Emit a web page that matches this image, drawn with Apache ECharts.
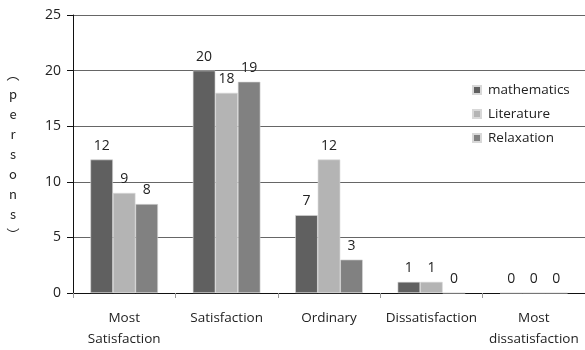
<!DOCTYPE html>
<html><head><meta charset="utf-8">
<script src="https://cdn.jsdelivr.net/npm/echarts@6/dist/echarts.min.js"></script>
<style>html,body{margin:0;padding:0;background:#fff}#c{width:585px;height:350px}</style>
</head><body><div id="c"></div>
<script>
var categories = ['Most\nSatisfaction', 'Satisfaction', 'Ordinary', 'Dissatisfaction', 'Most\ndissatisfaction'];
var mathematics = [12, 20, 7, 1, 0];
var literature = [9, 18, 12, 1, 0];
var relaxation = [8, 19, 3, 0, 0];
var seriesNames = ['mathematics', 'Literature', 'Relaxation'];
var yTicks = [0, 5, 10, 15, 20, 25];
var yName = '︵\np\ne\nr\ns\no\nn\ns\n︶';

var FONT = '"Open Sans", sans-serif';
var colors = ['#606060', '#b4b4b4', '#818181'];
var chart = echarts.init(document.getElementById('c'), null, {renderer: 'canvas'});
function mk(name, data, i) {
  return {
    name: name, type: 'bar', data: data, barGap: '0%', barCategoryGap: '34%',
    itemStyle: {color: colors[i], borderColor: '#d8d8d8', borderWidth: 0.6},
    label: {show: true, position: 'top', distance: 7, color: '#222', fontSize: 14, fontFamily: FONT},
    emphasis: {disabled: true}
  };
}
chart.setOption({
  animation: false,
  color: colors,
  grid: {left: 73, right: 0, top: 15, bottom: 56, containLabel: false},
  legend: {
    orient: 'vertical', left: 467, top: 78, itemWidth: 8, itemHeight: 8, itemGap: 10,
    icon: 'rect', data: seriesNames,
    textStyle: {fontSize: 13.5, color: '#222', fontFamily: FONT, padding: [0, 0, 0, 2]}
  },
  xAxis: {
    type: 'category', data: categories,
    axisLine: {lineStyle: {color: '#111', width: 1}},
    axisTick: {show: true, alignWithLabel: false, length: 5, lineStyle: {color: '#999'}},
    axisLabel: {fontSize: 13.5, color: '#222', fontFamily: FONT, margin: 15, lineHeight: 21, interval: 0}
  },
  yAxis: {
    type: 'value', min: 0, max: 25, interval: 5,
    name: yName, nameLocation: 'middle', nameRotate: 0, nameGap: 60,
    nameTextStyle: {fontSize: 13, color: '#222', fontFamily: '"Noto Sans CJK SC", "Open Sans", sans-serif', lineHeight: 20, align: 'center'},
    axisLine: {show: true, lineStyle: {color: '#111', width: 1}},
    axisTick: {show: true, inside: false, length: 6, lineStyle: {color: '#111'}},
    splitLine: {show: true, lineStyle: {color: '#666', width: 1}},
    axisLabel: {fontSize: 14, color: '#222', fontFamily: FONT, margin: 12}
  },
  series: [mk(seriesNames[0], mathematics, 0), mk(seriesNames[1], literature, 1), mk(seriesNames[2], relaxation, 2)]
});
</script></body></html>
